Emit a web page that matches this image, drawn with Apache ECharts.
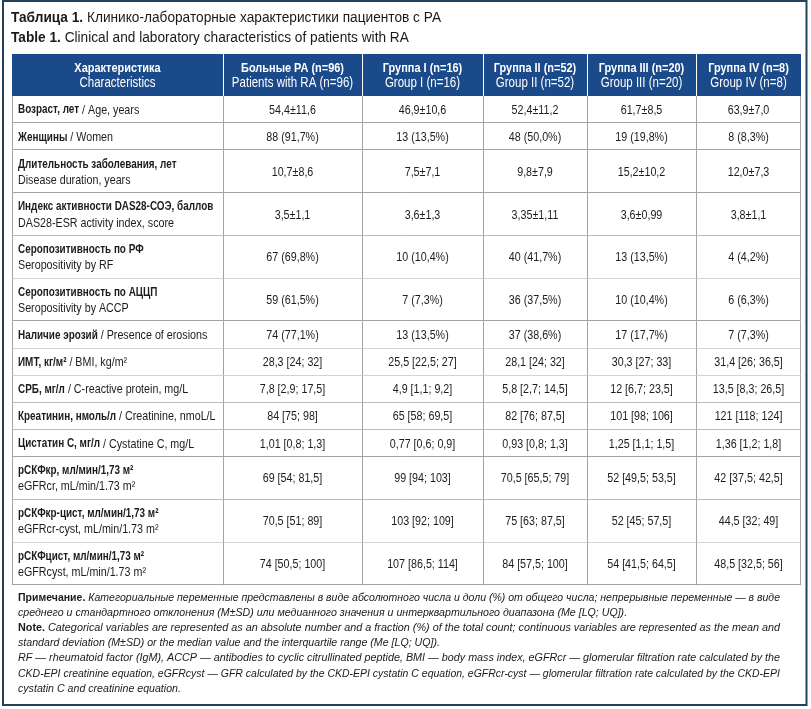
<!DOCTYPE html>
<html>
<head>
<meta charset="utf-8">
<script src="https://cdn.jsdelivr.net/npm/echarts@6/dist/echarts.min.js"></script>
<style>html,body{margin:0;padding:0;background:#fff}#c{width:811px;height:709px}</style>
</head>
<body>
<div id="c"></div>
<script>
// ---------- DATA ----------
var headerRu = ['Характеристика', 'Больные РА (n=96)', 'Группа I (n=16)', 'Группа II (n=52)', 'Группа III (n=20)', 'Группа IV (n=8)'];
var headerEn = ['Characteristics', 'Patients with RA (n=96)', 'Group I (n=16)', 'Group II (n=52)', 'Group III (n=20)', 'Group IV (n=8)'];

var rowLabelsRu = ['Возраст, лет', 'Женщины', 'Длительность заболевания, лет', 'Индекс активности DAS28-СОЭ, баллов',
  'Серопозитивность по РФ', 'Серопозитивность по АЦЦП', 'Наличие эрозий', 'ИМТ, кг/м²', 'СРБ, мг/л',
  'Креатинин, нмоль/л', 'Цистатин С, мг/л', 'рСКФкр, мл/мин/1,73 м²', 'рСКФкр-цист, мл/мин/1,73 м²', 'рСКФцист, мл/мин/1,73 м²'];
var rowLabelsEn = ['Age, years', 'Women', 'Disease duration, years', 'DAS28-ESR activity index, score',
  'Seropositivity by RF', 'Seropositivity by ACCP', 'Presence of erosions', 'BMI, kg/m²', 'C-reactive protein, mg/L',
  'Creatinine, nmoL/L', 'Cystatine C, mg/L', 'eGFRcr, mL/min/1.73 m²', 'eGFRcr-cyst, mL/min/1.73 m²', 'eGFRcyst, mL/min/1.73 m²'];

var patientsRA = ['54,4±11,6', '88 (91,7%)', '10,7±8,6', '3,5±1,1', '67 (69,8%)', '59 (61,5%)', '74 (77,1%)',
  '28,3 [24; 32]', '7,8 [2,9; 17,5]', '84 [75; 98]', '1,01 [0,8; 1,3]', '69 [54; 81,5]', '70,5 [51; 89]', '74 [50,5; 100]'];
var group1 = ['46,9±10,6', '13 (13,5%)', '7,5±7,1', '3,6±1,3', '10 (10,4%)', '7 (7,3%)', '13 (13,5%)',
  '25,5 [22,5; 27]', '4,9 [1,1; 9,2]', '65 [58; 69,5]', '0,77 [0,6; 0,9]', '99 [94; 103]', '103 [92; 109]', '107 [86,5; 114]'];
var group2 = ['52,4±11,2', '48 (50,0%)', '9,8±7,9', '3,35±1,11', '40 (41,7%)', '36 (37,5%)', '37 (38,6%)',
  '28,1 [24; 32]', '5,8 [2,7; 14,5]', '82 [76; 87,5]', '0,93 [0,8; 1,3]', '70,5 [65,5; 79]', '75 [63; 87,5]', '84 [57,5; 100]'];
var group3 = ['61,7±8,5', '19 (19,8%)', '15,2±10,2', '3,6±0,99', '13 (13,5%)', '10 (10,4%)', '17 (17,7%)',
  '30,3 [27; 33]', '12 [6,7; 23,5]', '101 [98; 106]', '1,25 [1,1; 1,5]', '52 [49,5; 53,5]', '52 [45; 57,5]', '54 [41,5; 64,5]'];
var group4 = ['63,9±7,0', '8 (8,3%)', '12,0±7,3', '3,8±1,1', '4 (4,2%)', '6 (6,3%)', '7 (7,3%)',
  '31,4 [26; 36,5]', '13,5 [8,3; 26,5]', '121 [118; 124]', '1,36 [1,2; 1,8]', '42 [37,5; 42,5]', '44,5 [32; 49]', '48,5 [32,5; 56]'];

var titleRu = ['Таблица 1.', 'Клинико-лабораторные характеристики пациентов с РА'];
var titleEn = ['Table 1.', 'Clinical and laboratory characteristics of patients with RA'];

var noteLines = [
  [['b', 'Примечание.'], ['i', ' Категориальные переменные представлены в виде абсолютного числа и доли (%) от общего числа; непрерывные переменные — в виде']],
  [['i', 'среднего и стандартного отклонения (M±SD) или медианного значения и интерквартильного диапазона (Me [LQ; UQ]).']],
  [['b', 'Note.'], ['i', ' Categorical variables are represented as an absolute number and a fraction (%) of the total count; continuous variables are represented as the mean and']],
  [['i', 'standard deviation (M±SD) or the median value and the interquartile range (Me [LQ; UQ]).']],
  [['i', 'RF — rheumatoid factor (IgM), ACCP — antibodies to cyclic citrullinated peptide, BMI — body mass index, eGFRcr — glomerular filtration rate calculated by the']],
  [['i', 'CKD-EPI creatinine equation, eGFRcyst — GFR calculated by the CKD-EPI cystatin C equation, eGFRcr-cyst — glomerular filtration rate calculated by the CKD-EPI']],
  [['i', 'cystatin C and creatinine equation.']]
];

// ---------- LAYOUT (not data) ----------
var colWidths = [211, 139, 121, 104, 109, 105];
var rowTwoLines = [false, false, true, true, true, true, false, false, false, false, false, true, true, true];
var noteJustified = [true, false, true, false, true, true, false];
var headerH = 42, singleH = 27.1, doubleH = 42.8;
var FR = "'Liberation Sans',Arial,Helvetica,sans-serif";
var NARROW = 0.8;        // horizontal squeeze to imitate a condensed face
var NOTE_SIZE = 11.3, NOTE_SCALE = 0.94, NOTE_WIDTH = 762, NOTE_LH = 15.2;

var columns = [patientsRA, group1, group2, group3, group4];
var rowHeights = [headerH].concat(rowTwoLines.map(function (t) { return t ? doubleH : singleH; }));
var rowTops = [0];
rowHeights.forEach(function (h, i) { rowTops.push(rowTops[i] + h); });
var colLefts = [0];
colWidths.forEach(function (w, i) { colLefts.push(colLefts[i] + w); });
var totalW = colLefts[colLefts.length - 1];
var totalH = rowTops[rowTops.length - 1];

var rows = [];
for (var r = 0; r <= rowLabelsRu.length; r++) rows.push([r]);

var richBody = {
  b: { fontFamily: FR, fontWeight: 'bold', fontSize: 12.4, fill: '#1c1c1c', lineHeight: 16 },
  r: { fontFamily: FR, fontWeight: 'normal', fontSize: 13.4, fill: '#1c1c1c', lineHeight: 16 }
};
var richHead = {
  b: { fontFamily: FR, fontWeight: 'bold', fontSize: 13.7, fill: '#ffffff', lineHeight: 15 },
  r: { fontFamily: FR, fontWeight: 'normal', fontSize: 14.4, fill: '#ffffff', lineHeight: 15 }
};

function crisp(v) { return Math.round(v) + 0.5; }

function renderRow(params, api) {
  var ri = api.value(0);
  var isHead = ri === 0;
  var y0 = api.coord([0, rowTops[ri]])[1];
  var y1 = api.coord([0, rowTops[ri + 1]])[1];
  var children = [];
  for (var c = 0; c < colWidths.length; c++) {
    var x0 = api.coord([colLefts[c], 0])[0];
    var x1 = api.coord([colLefts[c + 1], 0])[0];
    children.push({
      type: 'rect',
      shape: { x: x0, y: y0, width: x1 - x0, height: y1 - y0 },
      style: { fill: isHead ? '#1b4a8a' : '#ffffff' }
    });
    var txt, rich, align = 'center', tx = (x0 + x1) / 2;
    if (isHead) {
      txt = '{b|' + headerRu[c] + '}\n{r|' + headerEn[c] + '}';
      rich = richHead;
    } else {
      var k = ri - 1;
      if (c === 0) {
        align = 'left'; tx = x0 + 6;
        txt = rowTwoLines[k] ? '{b|' + rowLabelsRu[k] + '}\n{r|' + rowLabelsEn[k] + '}'
                             : '{b|' + rowLabelsRu[k] + '}{r| / ' + rowLabelsEn[k] + '}';
      } else {
        txt = '{r|' + columns[c - 1][k] + '}';
      }
      rich = richBody;
    }
    children.push({
      type: 'text',
      x: tx, y: (y0 + y1) / 2 + 0.5, scaleX: NARROW,
      style: { text: txt, rich: rich, x: 0, y: 0, align: align, verticalAlign: 'middle' }
    });
    if (c > 0) {
      children.push({
        type: 'line',
        shape: { x1: crisp(x0), y1: y0, x2: crisp(x0), y2: y1 },
        style: { stroke: isHead ? '#ffffff' : '#a3a3a3', lineWidth: 1 }
      });
    }
  }
  var xl = api.coord([0, 0])[0], xr = api.coord([totalW, 0])[0];
  if (!isHead) {
    children.push({ type: 'line', shape: { x1: xl, y1: crisp(y1) - 1, x2: xr, y2: crisp(y1) - 1 }, style: { stroke: '#a3a3a3', lineWidth: 1 } });
    children.push({ type: 'line', shape: { x1: crisp(xl), y1: y0, x2: crisp(xl), y2: y1 }, style: { stroke: '#a3a3a3', lineWidth: 1 } });
    children.push({ type: 'line', shape: { x1: crisp(xr) - 1, y1: y0, x2: crisp(xr) - 1, y2: y1 }, style: { stroke: '#a3a3a3', lineWidth: 1 } });
  }
  return { type: 'group', children: children };
}

// ----- notes: one text element per line; full lines are stretched to the paragraph width (justified look)
var measureCtx = document.createElement('canvas').getContext('2d');
var noteFonts = {
  b: 'normal bold ' + NOTE_SIZE + 'px ' + FR,
  i: 'italic normal ' + NOTE_SIZE + 'px ' + FR
};
function measureLine(line) {
  var w = 0;
  line.forEach(function (seg) { measureCtx.font = noteFonts[seg[0]]; w += measureCtx.measureText(seg[1]).width; });
  return w;
}
var noteRich = {
  b: { fontFamily: FR, fontWeight: 'bold', fontStyle: 'normal', fontSize: NOTE_SIZE, fill: '#1a1a1a' },
  i: { fontFamily: FR, fontWeight: 'normal', fontStyle: 'italic', fontSize: NOTE_SIZE, fill: '#1a1a1a' }
};
var noteGraphics = noteLines.map(function (line, i) {
  var sc = NOTE_SCALE;
  if (noteJustified[i]) sc = NOTE_WIDTH / measureLine(line);
  return {
    type: 'text', x: 18, y: 597.5 + i * NOTE_LH, scaleX: sc,
    style: {
      text: line.map(function (seg) { return '{' + seg[0] + '|' + seg[1] + '}'; }).join(''),
      x: 0, y: 0, verticalAlign: 'middle', align: 'left', rich: noteRich
    }
  };
});

var titleText = '{b|' + titleRu[0] + '}{r| ' + titleRu[1] + '}\n{b|' + titleEn[0] + '}{r| ' + titleEn[1] + '}';

var chart = echarts.init(document.getElementById('c'), null, { renderer: 'canvas' });
chart.setOption({
  animation: false,
  backgroundColor: '#ffffff',
  grid: { left: 12, top: 54, width: totalW, height: totalH },
  xAxis: { type: 'value', min: 0, max: totalW, show: false },
  yAxis: { type: 'value', min: 0, max: totalH, inverse: true, show: false },
  series: [{
    type: 'custom',
    coordinateSystem: 'cartesian2d',
    renderItem: renderRow,
    data: rows,
    encode: { x: -1, y: 0 },
    clip: false
  }],
  graphic: [
    {
      type: 'rect', x: 3, y: 1, z: -1,
      shape: { x: 0, y: 0, width: 803.5, height: 704 },
      style: { fill: 'none', stroke: '#23425b', lineWidth: 2 }
    },
    {
      type: 'text', x: 11, y: 27.5, scaleX: 0.9,
      style: {
        text: titleText, x: 0, y: 0, verticalAlign: 'middle', align: 'left',
        rich: {
          b: { fontFamily: FR, fontWeight: 'bold', fontSize: 15.2, fill: '#1a1a1a', lineHeight: 20 },
          r: { fontFamily: FR, fontWeight: 'normal', fontSize: 15.2, fill: '#1a1a1a', lineHeight: 20 }
        }
      }
    }
  ].concat(noteGraphics)
});
</script>
</body>
</html>
